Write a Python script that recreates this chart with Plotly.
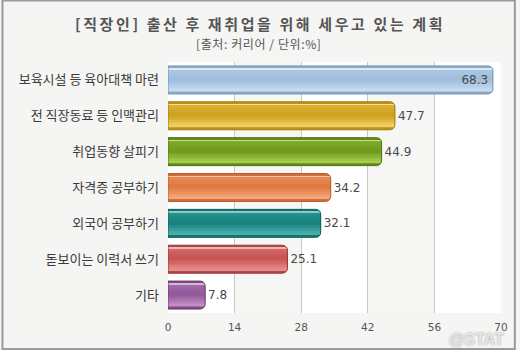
import plotly.graph_objects as go

categories = ["보육시설 등 육아대책 마련", "전 직장동료 등 인맥관리", "취업동향 살피기",
              "자격증 공부하기", "외국어 공부하기", "돋보이는 이력서 쓰기", "기타"]
values = [68.3, 47.7, 44.9, 34.2, 32.1, 25.1, 7.8]
x_ticks = [0, 14, 28, 42, 56, 70]
title_text = "[직장인] 출산 후 재취업을 위해 세우고 있는 계획"
subtitle_text = "[출처: 커리어 / 단위:%]"

# (dark edge, mid, light) per bar
palette = [
    ("#7391b0", "#9dbcdc", "#c6dcf1"),
    ("#a07c0c", "#cda01c", "#f1cf62"),
    ("#51760f", "#6d981a", "#a6cc50"),
    ("#b45e2c", "#de7841", "#f4a679"),
    ("#0e5f5e", "#167f7d", "#4aafaa"),
    ("#983434", "#c65252", "#e68c8c"),
    ("#683a6e", "#915697", "#c08fc4"),
]

def mix(c1, c2, t):
    a = [int(c1[i:i + 2], 16) for i in (1, 3, 5)]
    b = [int(c2[i:i + 2], 16) for i in (1, 3, 5)]
    return "#%02x%02x%02x" % tuple(round(a[k] + (b[k] - a[k]) * t) for k in range(3))

def shade(p, t):
    d, m, l = p
    if t < 0.17:
        return mix(l, "#ffffff", 0.35)
    if t < 0.5:
        return mix(mix(m, l, 0.35), m, (t - 0.17) / 0.33)
    return mix(m, l, min(1.0, (t - 0.5) / 0.38))

ypos = list(range(len(categories)))
W = 0.78
fig = go.Figure()

# base rounded bar (shows at top/bottom edges)
fig.add_trace(go.Bar(
    y=ypos, x=values, orientation="h", width=W, offset=-W / 2,
    marker=dict(color=[mix(p[1], p[0], 0.35) for p in palette], line=dict(width=0), cornerradius=5),
    hoverinfo="skip", showlegend=False,
))

# gradient bands
n = 14
s0, s1 = 0.09, 0.91
step = (s1 - s0) / n
for i in range(n):
    s = s0 + i * step
    c = s + step / 2
    fig.add_trace(go.Bar(
        y=ypos, x=values, orientation="h",
        width=W * step * 1.04, offset=-W / 2 + W * s,
        marker=dict(color=[shade(p, c) for p in palette], line=dict(width=0), cornerradius=0),
        hoverinfo="skip", showlegend=False,
    ))

# outline + labels
textpos = ["inside" if v > 60 else "outside" for v in values]
fig.add_trace(go.Bar(
    y=ypos, x=values, orientation="h", width=W, offset=-W / 2,
    marker=dict(color="rgba(0,0,0,0)", line=dict(color=[p[0] for p in palette], width=1),
                cornerradius=5),
    text=[f"{v:.1f}" for v in values], textposition=textpos,
    insidetextanchor="end", constraintext="none", cliponaxis=False,
    textfont=dict(family="DejaVu Sans", size=12, color="#4a4a4a"),
    showlegend=False,
))

fig.update_layout(
    width=520, height=350,
    margin=dict(l=168, r=15, t=62, b=37),
    paper_bgcolor="#f5f5f3", plot_bgcolor="#ffffff",
    barmode="overlay",
    font=dict(family="Noto Sans CJK KR", color="#444444"),
    title=dict(text=f'<span style="letter-spacing:2.6px">{title_text}</span>',
               x=0.5, xref="container", xanchor="center",
               y=1 - 25 / 350, yref="container", yanchor="middle",
               font=dict(family="Noto Sans CJK KR", size=15, color="#555555", weight="bold")),
    xaxis=dict(range=[0, 70], tickvals=x_ticks, ticktext=[str(t) for t in x_ticks],
               showgrid=True, gridcolor="#c8c8c8", gridwidth=1, zeroline=False,
               showline=False, ticks="", ticklabelstandoff=6,
               tickfont=dict(family="DejaVu Sans", size=10.5, color="#555555")),
    yaxis=dict(range=[len(categories) - 0.5, -0.5], tickvals=ypos, ticktext=categories,
               showgrid=False, zeroline=False, showline=False, ticks="",
               ticklabelstandoff=8,
               tickfont=dict(family="Noto Sans CJK KR", size=13, color="#3a3a3a")),
    shapes=[
        dict(type="rect", xref="x", yref="paper", x0=14, x1=28, y0=0, y1=1,
             fillcolor="#f6f6f4", line=dict(width=0), layer="below"),
        dict(type="rect", xref="x", yref="paper", x0=42, x1=56, y0=0, y1=1,
             fillcolor="#f6f6f4", line=dict(width=0), layer="below"),
        dict(type="rect", xref="paper", yref="paper",
             x0=-168 / 337 + 0.5 / 337, x1=1 + 15 / 337 - 1 / 337,
             y0=-37 / 251 + 1 / 251, y1=1 + 62 / 251 - 0.5 / 251,
             line=dict(color="#9a9a9a", width=2), fillcolor="rgba(0,0,0,0)", layer="above"),
    ],
    annotations=[
        dict(text=f'<span style="letter-spacing:0.6px">{subtitle_text}</span>',
             xref="paper", yref="paper",
             x=(260 - 168) / 337, y=1 + (62 - 43) / 251, xanchor="center", yanchor="middle",
             showarrow=False, font=dict(family="Noto Sans CJK KR", size=12, color="#555555")),
        dict(text="<b>@STAT</b>", xref="paper", yref="paper",
             x=1 + 5 / 337, y=-(339 - 313) / 251, xanchor="right", yanchor="middle",
             showarrow=False,
             font=dict(family="Liberation Sans", size=16, color="rgba(238,238,238,0.85)",
                       shadow="0px 0px 2px #8a8a8a")),
    ],
)

fig.write_html("out.html")
